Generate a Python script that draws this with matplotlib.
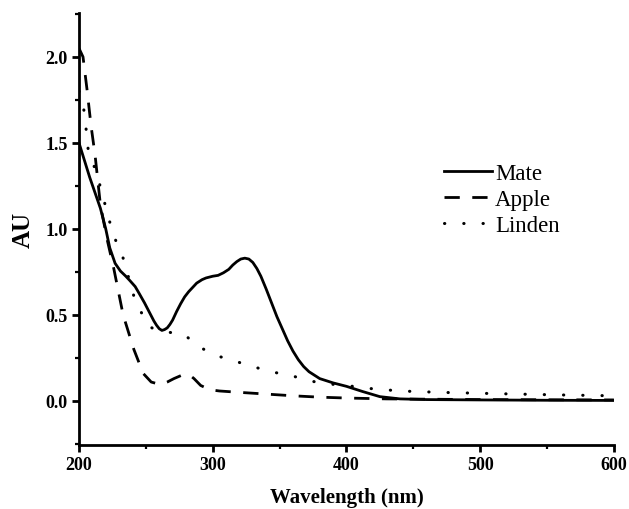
import numpy as np
import matplotlib
matplotlib.use("Agg")
import matplotlib.pyplot as plt

plt.rcParams["font.family"] = ["Liberation Serif", "DejaVu Serif"]

# values
mate_x = [200, 204, 208, 212, 216, 220, 223, 227, 231, 235, 238, 242, 245, 249, 253, 256,
          258, 260, 262, 264, 266, 268, 270, 273, 276, 279, 282, 285, 288, 292, 295, 300,
          304, 308, 312, 315, 318, 321, 324, 327, 330, 333, 336, 340, 344, 348, 352, 356,
          360, 364, 368, 372, 376, 380, 390, 400, 412, 425, 440, 460, 500, 550, 600]
mate_y = [1.50, 1.40, 1.30, 1.21, 1.12, 1.00, 0.89, 0.80, 0.755, 0.725, 0.70, 0.665, 0.625,
          0.57, 0.51, 0.465, 0.44, 0.42, 0.41, 0.415, 0.425, 0.445, 0.47, 0.52, 0.565, 0.605,
          0.635, 0.66, 0.685, 0.705, 0.715, 0.725, 0.73, 0.745, 0.765, 0.79, 0.81, 0.825,
          0.83, 0.825, 0.805, 0.77, 0.725, 0.65, 0.57, 0.49, 0.42, 0.35, 0.29, 0.24, 0.20,
          0.17, 0.15, 0.13, 0.105, 0.085, 0.055, 0.025, 0.012, 0.008, 0.006, 0.004, 0.003]

apple_x = [200, 203, 206, 209, 212, 216, 221, 226, 233, 241, 248, 254, 261, 266, 271, 277,
           282, 286, 291, 298, 305, 320, 340, 360, 380, 400, 430, 500, 600]
apple_y = [2.05, 2.00, 1.81, 1.60, 1.43, 1.14, 0.94, 0.77, 0.50, 0.30, 0.16, 0.11, 0.095,
           0.11, 0.13, 0.15, 0.155, 0.13, 0.09, 0.065, 0.058, 0.05, 0.04, 0.03, 0.022, 0.017,
           0.012, 0.008, 0.006]

linden_x = [200, 204, 207, 213, 223, 228, 233, 241, 251, 258, 266, 278, 289, 300, 315, 328,
            343, 358, 370, 385, 400, 415, 440, 470, 515, 560, 600]
linden_y = [1.80, 1.68, 1.45, 1.33, 1.04, 0.92, 0.83, 0.61, 0.44, 0.41, 0.40, 0.39, 0.32,
            0.27, 0.235, 0.205, 0.17, 0.15, 0.12, 0.10, 0.09, 0.074, 0.058, 0.05, 0.042,
            0.035, 0.03]

x_ticks = [200, 300, 400, 500, 600]
y_ticks = [0.0, 0.5, 1.0, 1.5, 2.0]

fig = plt.figure(figsize=(6.29, 5.10), dpi=100)
ax = fig.add_axes([0.1256, 0.1255, 0.8504, 0.847])

ax.plot(mate_x, mate_y, color="black", lw=2.0, label="Mate")
ax.plot(apple_x, apple_y, color="black", lw=2.0, dashes=(5.5, 4.5), label="Apple")
ax.plot(linden_x, linden_y, color="black", lw=2.2, dashes=(0.1, 6.2),
        dash_capstyle="round", label="Linden")

ax.set_xlim(200, 600)
ax.set_ylim(-0.256, 2.255)
ax.set_xticks(x_ticks)
ax.set_yticks(y_ticks)
ax.set_xticks([250, 350, 450, 550], minor=True)
ax.set_yticks([-0.25, 0.25, 0.75, 1.25, 1.75, 2.25], minor=True)
ax.set_yticklabels([f"{v:.1f}" for v in y_ticks])

for side in ["top", "right"]:
    ax.spines[side].set_visible(False)
for side in ["left", "bottom"]:
    ax.spines[side].set_linewidth(2.0)

ax.tick_params(which="major", direction="out", length=5, width=2.0,
               labelsize=13, pad=3)
ax.tick_params(which="minor", direction="out", length=3, width=1.6)
for lab in ax.get_xticklabels() + ax.get_yticklabels():
    lab.set_fontweight("bold")

ax.set_xlabel("Wavelength (nm)", fontsize=15, fontweight="bold", labelpad=10)
ax.set_ylabel("AU", fontsize=18, fontweight="bold", labelpad=8)

ax.legend(loc="upper left", bbox_to_anchor=(0.643, 0.701), frameon=False,
          fontsize=16.5, handlelength=2.1, handletextpad=0.15, labelspacing=0.22)

fig.savefig("out.png", dpi=100)
